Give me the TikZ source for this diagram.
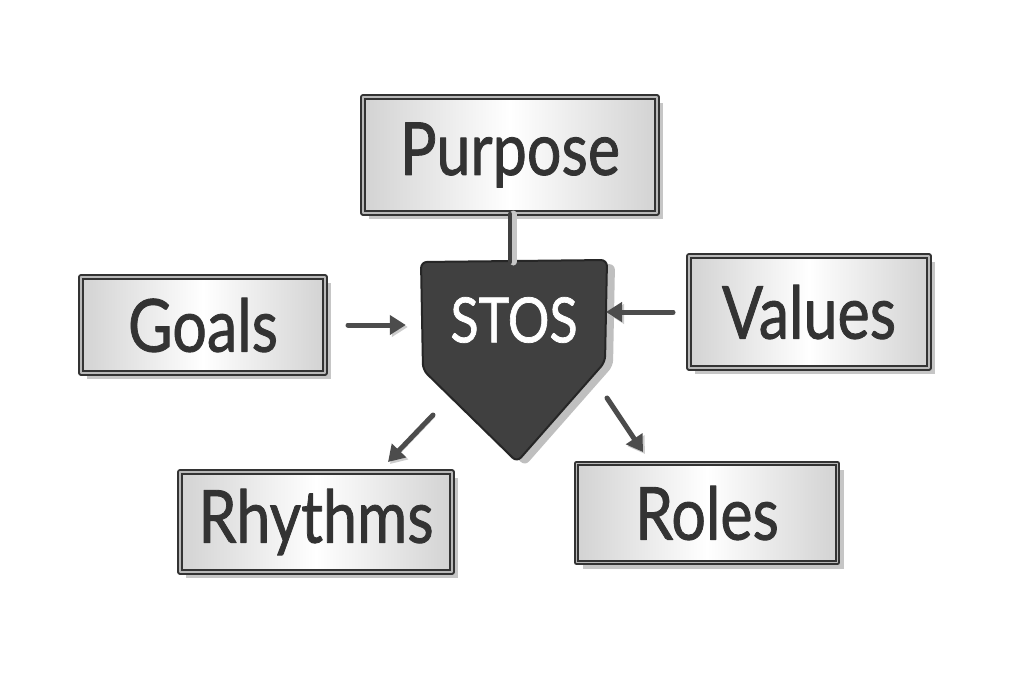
\documentclass[tikz,border=0pt]{standalone}
\usepackage{fontspec}
\setmainfont{Lato}[FakeBold=1.2]
\usetikzlibrary{calc,shadows,arrows.meta}

\newcommand\word[1]{\scalebox{1}[1.2]{#1}}

\begin{document}
\begin{tikzpicture}[x=1pt,y=-1pt,line cap=round,line join=round,
  board/.style={draw=black!80,line width=2pt,double=gray!55,double distance=1.2pt,
    left color=gray!35,right color=gray!35,middle color=white,
    drop shadow={shadow xshift=6pt,shadow yshift=-6pt,fill=gray!45,opacity=1},
    font=\fontsize{61}{66}\selectfont,text=black!80,inner sep=0pt},
  arr/.style={line width=5pt,draw=black!70,-{Triangle[length=16pt,width=19pt]},
    preaction={draw=gray!40,transform canvas={shift={(2pt,-2pt)}}}}]
  \useasboundingbox[fill=white] (0,0) rectangle (1024,683);

  % the shield in the middle
  \draw[fill=black!75,draw=black!85,line width=2pt,rounded corners=6pt,
    drop shadow={shadow xshift=8pt,shadow yshift=-4pt,fill=gray!50,opacity=1}]
    (421,262) coordinate (tl) -- (607,260) coordinate (tr) -- (605,362)
    -- (517,462) coordinate (bot) -- (423,370) -- cycle;
  \node[text=white,font=\fontsize{52}{60}\selectfont,minimum width=186pt,minimum height=100pt]
    (stos) at (514,320) {\word{STOS}};

  \node[board,minimum width=294pt,minimum height=116pt] (purpose) at (510,155) {\word{Purpose}};
  \node[board,minimum width=244pt,minimum height=96pt] (goals) at (203,325) {\word{Goals}};
  \node[board,minimum width=240pt,minimum height=112pt] (values) at (809,312) {\word{Values}};
  \node[board,minimum width=272pt,minimum height=100pt] (rhythms) at (316,522) {\word{Rhythms}};
  \node[board,minimum width=261pt,minimum height=99pt] (roles) at (707,513) {\word{Roles}};

  % post from Purpose down to the shield
  \draw[line width=7pt,draw=gray!45] ([xshift=3pt]purpose.south) -- ([xshift=3pt]purpose.south |- tl);
  \draw[line width=4.5pt,draw=black!75] (purpose.south) -- (purpose.south |- tl);

  \draw[arr,shorten <=22pt,shorten >=15pt] (goals.east) -- (goals.east -| stos.west);
  \draw[arr,shorten <=15pt,shorten >=-1pt] (values.west) -- (values.west -| tr);
  \coordinate (r1) at (433,415);
  \coordinate (r2) at (388,462);
  \coordinate (s1) at (607,398);
  \coordinate (s2) at (643,452);
  \draw[arr] (r1) -- (r2);
  \draw[arr] (s1) -- (s2);

\end{tikzpicture}
\end{document}
